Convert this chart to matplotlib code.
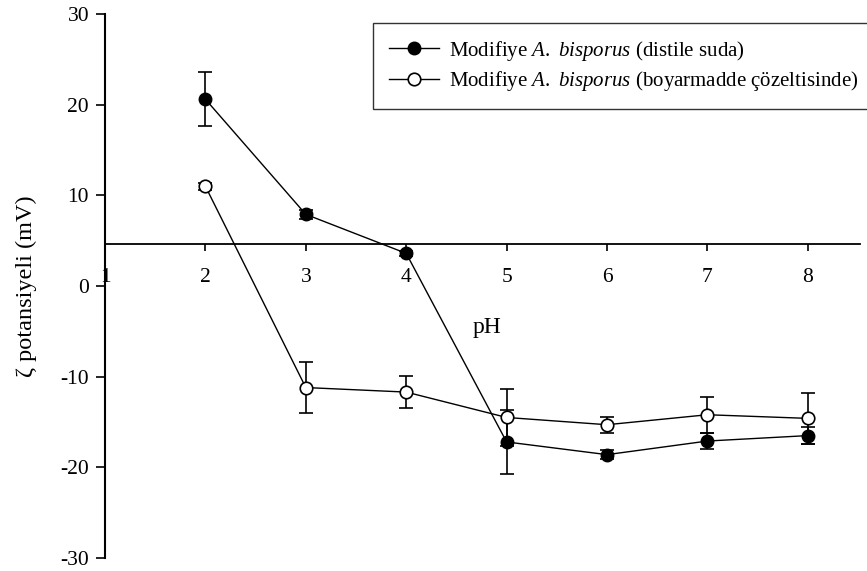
import matplotlib.pyplot as plt
from matplotlib.lines import Line2D

# veri
ph = [2, 3, 4, 5, 6, 7, 8]
zeta_su = [20.6, 7.9, 3.6, -17.2, -18.6, -17.1, -16.5]
err_su = [3.0, 0.5, 0.3, 3.5, 0.5, 0.9, 0.9]
zeta_boya = [11.0, -11.2, -11.7, -14.5, -15.3, -14.2, -14.6]
err_boya = [0.4, 2.8, 1.75, 3.1, 0.9, 2.0, 2.8]
xticks = [1, 2, 3, 4, 5, 6, 7, 8]
yticks = [-30, -20, -10, 0, 10, 20, 30]
etiketler = ['Modifiye $\\mathit{A.}$ $\\mathit{bisporus}$ (distile suda)',
             'Modifiye $\\mathit{A.}$ $\\mathit{bisporus}$ (boyarmadde çözeltisinde)']

plt.rcParams['font.family'] = ['Liberation Serif', 'DejaVu Serif']
plt.rcParams['mathtext.fontset'] = 'custom'
plt.rcParams['mathtext.rm'] = 'Liberation Serif'
plt.rcParams['mathtext.it'] = 'Liberation Serif:italic'
plt.rcParams['axes.unicode_minus'] = False

fig = plt.figure(figsize=(8.67, 5.71), dpi=100)
ax = fig.add_axes([105/867, 1 - 558/571, 755/867, 544/571])

ax.errorbar(ph, zeta_su, yerr=err_su, color='black', lw=1.0, marker='o',
            ms=9, mfc='black', mec='black', capsize=5, elinewidth=1.2,
            capthick=1.2, zorder=3)
ax.errorbar(ph, zeta_boya, yerr=err_boya, color='black', lw=1.0, marker='o',
            ms=9, mfc='white', mec='black', mew=1.2, capsize=5, elinewidth=1.2,
            capthick=1.2, zorder=4)

ax.set_xlim(1, 8.52)
ax.set_ylim(-30, 30)
ax.spines['top'].set_visible(False)
ax.spines['right'].set_visible(False)
ax.spines['bottom'].set_position(('data', 4.6))
ax.spines['left'].set_linewidth(1.5)
ax.spines['bottom'].set_linewidth(1.3)

ax.set_xticks(xticks)
ax.set_yticks(yticks)
ax.tick_params(axis='x', direction='out', length=5, width=1.2, pad=12, labelsize=15.5)
ax.tick_params(axis='y', direction='out', length=6.5, width=1.2, pad=5, labelsize=15.5)

fig.text(26/867, 1 - 286/571, 'ζ potansiyeli (mV)', fontsize=17.5,
         rotation=90, ha='center', va='center')
fig.text(487/867, 1 - 328/571, 'pH', fontsize=17, ha='center', va='center')

handles = [Line2D([], [], color='black', lw=1.0, marker='o', ms=9, mfc='black', mec='black'),
           Line2D([], [], color='black', lw=1.0, marker='o', ms=9, mfc='white', mec='black', mew=1.2)]
leg = ax.legend(handles, etiketler, loc='upper left', bbox_to_anchor=(373/867, 1 - 23/571),
                bbox_transform=fig.transFigure, fontsize=15, frameon=True,
                fancybox=False, shadow=False, handlelength=2.4, borderpad=0.75,
                labelspacing=0.3, handletextpad=0.5, borderaxespad=0)
leg.get_frame().set_edgecolor('black')
leg.get_frame().set_linewidth(1.0)

fig.savefig('out.png', dpi=100)
